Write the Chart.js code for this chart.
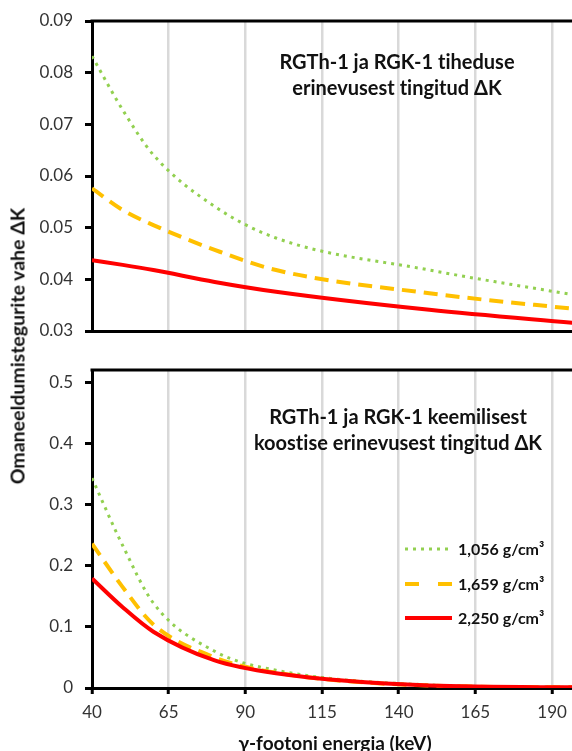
<!DOCTYPE html>
<html>
<head>
<meta charset="utf-8">
<script src="https://cdn.jsdelivr.net/npm/chart.js@4.4.1/dist/chart.umd.min.js"></script>
<style>
  html, body { margin: 0; padding: 0; background: #fff; }
  body { width: 572px; height: 751px; position: relative; overflow: hidden; font-family: Lato, "Open Sans", sans-serif; font-variant-ligatures: none; font-feature-settings: "liga" 0; }
  canvas { position: absolute; left: 0; }
  #topChart { top: 0; }
  #botChart { top: 350px; }
  .note { position: absolute; font-weight: bold; font-size: 20px; line-height: 26px; color: #111; text-align: center; white-space: nowrap; transform: translateX(-50%); }
  #yTitle { position: absolute; left: 17px; top: 346px; font-weight: bold; font-size: 19.5px; color: #111; white-space: nowrap; transform: translate(-50%, -50%) rotate(-90deg); }
  #xTitle { position: absolute; left: 335px; top: 742px; font-weight: bold; font-size: 19px; color: #111; white-space: nowrap; transform: translate(-50%, -50%); }
</style>
</head>
<body>
<canvas id="topChart" width="572" height="340"></canvas>
<canvas id="botChart" width="572" height="401"></canvas>
<div class="note" style="left:397px; top:48px">RGTh-1 ja RGK-1 tiheduse<br>erinevusest tingitud ΔK</div>
<div class="note" style="left:398px; top:403px">RGTh-1 ja RGK-1 keemilisest<br>koostise erinevusest tingitud ΔK</div>
<div id="yTitle">Omaneeldumistegurite vahe ΔK</div>
<div id="xTitle">γ-footoni energia (keV)</div>
<script>
const $ = (id) => document.getElementById(id);

// energies (keV)
const energies = [40, 50, 60, 80, 100, 150, 200];
const labels = ["1,056 g/cm³", "1,659 g/cm³", "2,250 g/cm³"];

// top panel: density difference
const topGreen = [0.0832, 0.0728, 0.0641, 0.0541, 0.0480, 0.0418, 0.0367];
const topOrange = [0.0576, 0.0534, 0.0505, 0.0457, 0.0418, 0.0373, 0.0341];
const topRed = [0.0437, 0.0428, 0.0418, 0.0395, 0.0376, 0.0341, 0.0314];

// bottom panel: chemical composition difference
const botGreen = [0.343, 0.233, 0.139, 0.060, 0.029, 0.005, 0.001];
const botOrange = [0.236, 0.165, 0.104, 0.050, 0.025, 0.004, 0.001];
const botRed = [0.179, 0.132, 0.092, 0.045, 0.024, 0.004, 0.001];

const xTicks = [40, 65, 90, 115, 140, 165, 190];
const yTicksTop = [0.03, 0.04, 0.05, 0.06, 0.07, 0.08, 0.09];
const yTicksBot = [0, 0.1, 0.2, 0.3, 0.4, 0.5];

const FONT = "Lato, 'Open Sans', sans-serif";
const styles = [
  { color: "#92D050", dash: [3, 5], width: 3 },
  { color: "#FFC000", dash: [14, 8], width: 4 },
  { color: "#FF0000", dash: [], width: 4 },
];

function makeSets(series) {
  return series.map((vals, i) => ({
    label: labels[i],
    data: vals.map((y, k) => ({ x: energies[k], y })),
    borderColor: styles[i].color,
    borderWidth: styles[i].width,
    borderDash: styles[i].dash,
    borderCapStyle: "butt",
    pointRadius: 0,
    fill: false,
    cubicInterpolationMode: "monotone",
    order: 3 - i,
  }));
}

// black line along the top of the plot area
const topBorder = {
  id: "topBorder",
  afterDraw(chart) {
    const { ctx, chartArea: a } = chart;
    ctx.save();
    ctx.strokeStyle = "#000";
    ctx.lineWidth = 3;
    ctx.beginPath();
    ctx.moveTo(a.left - 1.5, a.top);
    ctx.lineTo(a.right, a.top);
    ctx.stroke();
    ctx.restore();
  },
};

// legend inside the lower plot
const innerLegend = {
  id: "innerLegend",
  afterDraw(chart) {
    const { ctx } = chart;
    const x0 = 405, x1 = 452, rowY = [199, 234, 268];
    ctx.save();
    chart.data.datasets.forEach((ds, i) => {
      const y = rowY[i];
      ctx.strokeStyle = ds.borderColor;
      ctx.lineWidth = ds.borderWidth;
      ctx.setLineDash(i === 1 ? [14, 19] : ds.borderDash);
      ctx.lineCap = "butt";
      ctx.beginPath();
      ctx.moveTo(x0, y);
      ctx.lineTo(x1, y);
      ctx.stroke();
      ctx.setLineDash([]);
      ctx.fillStyle = "#111";
      ctx.font = "bold 16px " + FONT;
      ctx.textBaseline = "middle";
      ctx.fillText(ds.label, x1 + 6, y + 1);
    });
    ctx.restore();
  },
};

function fixedTicks(ticksArr) {
  return function (scale) {
    scale.ticks = ticksArr.map((v) => ({ value: v }));
  };
}

function buildChart(id, series, yMin, yMax, yTicks, isBottom) {
  return new Chart($(id).getContext("2d"), {
    type: "line",
    data: { datasets: makeSets(series) },
    plugins: isBottom ? [topBorder, innerLegend] : [topBorder],
    options: {
      responsive: false,
      animation: false,
      layout: { padding: isBottom ? { top: 20, bottom: 23, left: 0, right: 0 } : { top: 21, bottom: 9, left: 0, right: 0 } },
      plugins: { legend: { display: false }, tooltip: { enabled: false } },
      scales: {
        x: {
          type: "linear",
          min: 40,
          max: 196.5,
          afterBuildTicks: fixedTicks(xTicks),
          afterFit: (s) => {
            s.height = isBottom ? 40 : 0;
            s.paddingLeft = 0;
            s.paddingRight = 0;
          },
          border: { color: "#000", width: 3 },
          grid: {
            color: (c) => (c.tick && c.tick.value === 40 ? "rgba(0,0,0,0)" : "#D9D9D9"),
            lineWidth: 2.5,
            drawTicks: isBottom,
            tickLength: 6,
            tickColor: "#000",
            tickWidth: 3,
          },
          ticks: {
            display: isBottom,
            padding: 8,
            color: "#333",
            font: { family: FONT, size: 17 },
            callback: (v) => String(v),
          },
        },
        y: {
          min: yMin,
          max: yMax,
          afterBuildTicks: fixedTicks(yTicks),
          afterFit: (s) => {
            s.width = 92;
            s.paddingTop = 0;
            s.paddingBottom = 0;
          },
          border: { color: "#000", width: 3 },
          grid: { drawOnChartArea: false, drawTicks: true, tickLength: 7, tickColor: "#000", tickWidth: 3 },
          ticks: {
            padding: 12,
            color: "#333",
            font: { family: FONT, size: 17 },
            callback: (v) => String(v),
          },
        },
      },
    },
  });
}

buildChart("topChart", [topGreen, topOrange, topRed], 0.03, 0.09, yTicksTop, false);
buildChart("botChart", [botGreen, botOrange, botRed], 0, 0.52, yTicksBot, true);
</script>
</body>
</html>
